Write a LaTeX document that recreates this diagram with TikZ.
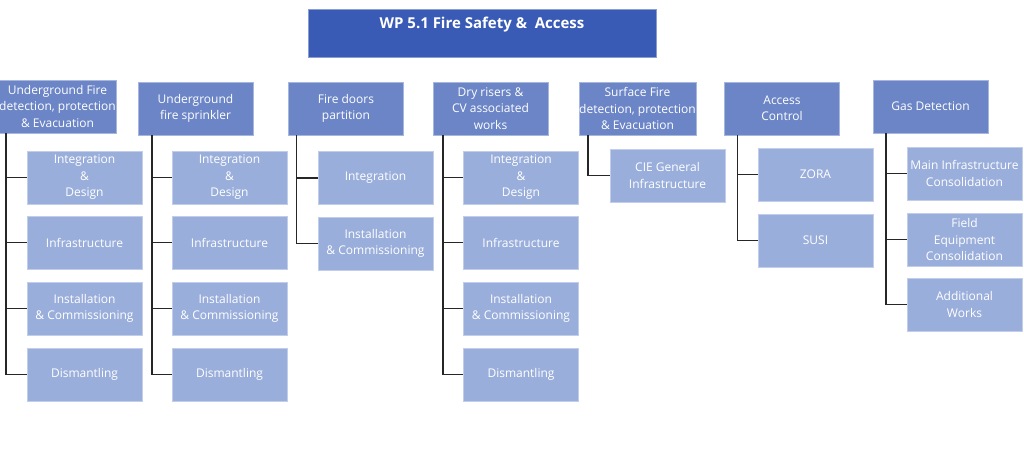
\documentclass[tikz,border=0pt]{standalone}
\usepackage{fontspec}
\setmainfont{Open Sans}
\usepackage{xcolor}
\usepackage{tikz}
\definecolor{wpblue}{HTML}{3A5BB5}
\definecolor{midblue}{HTML}{6B85C6}
\definecolor{lightblue}{HTML}{9AAEDB}
\tikzset{
  wpbox/.style={fill=wpblue, draw=wpblue!60!white, text=white, font=\fontsize{15}{18}\selectfont\bfseries,
    minimum width=348pt, inner sep=0pt, text height=20pt, text depth=28pt},
  topbox/.style={fill=midblue, draw=midblue!60!white, text=white, align=center, inner sep=0pt,
    minimum width=115pt, minimum height=53pt, font=\fontsize{12}{16.5}\selectfont},
  subbox/.style={topbox, fill=lightblue, draw=lightblue!60!white},
  link/.style={draw=black!85, line width=1.4pt}
}

\begin{document}
\begin{tikzpicture}[x=1pt, y=-1pt]
\useasboundingbox (0,0) rectangle (1024,449);

\node[wpbox] (wp) at (482,33) {WP 5.1 Fire Safety \&\ \ Access};

\node[topbox] (ugfire) at (57.5,106.5) {Underground Fire\\detection, protection\\\& Evacuation};
\node[topbox] (sprink) at (195.5,108.5) {Underground\\fire sprinkler};
\node[topbox] (doors) at (346,108.5) {Fire doors\\partition};
\node[topbox] (dry) at (490.5,108.5) {Dry risers \&\\CV associated\\works};
\node[topbox] (surf) at (637.5,108.5) {Surface Fire\\detection, protection\\\& Evacuation};
\node[topbox] (acc) at (782,108.5) {Access\\Control};
\node[topbox] (gas) at (930.5,106.5) {Gas Detection};

% underground fire
\node[subbox] (ugfire1) at (84.5,177.5) {Integration\\\&\\Design};
\node[subbox] (ugfire2) at (84.5,242.5) {Infrastructure};
\node[subbox] (ugfire3) at (84.5,308.5) {Installation\\\& Commissioning};
\node[subbox] (ugfire4) at (84.5,374.5) {Dismantling};

% sprinkler
\node[subbox] (sprink1) at (229.5,177.5) {Integration\\\&\\Design};
\node[subbox] (sprink2) at (229.5,242.5) {Infrastructure};
\node[subbox] (sprink3) at (229.5,308.5) {Installation\\\& Commissioning};
\node[subbox] (sprink4) at (229.5,374.5) {Dismantling};

% fire doors
\node[subbox] (doors1) at (375.5,178) {Integration};
\node[subbox] (doors2) at (375.5,243.5) {Installation\\\& Commissioning};

% dry risers
\node[subbox] (dry1) at (521,177.5) {Integration\\\&\\Design};
\node[subbox] (dry2) at (521,242.5) {Infrastructure};
\node[subbox] (dry3) at (521,308.5) {Installation\\\& Commissioning};
\node[subbox] (dry4) at (521,374.5) {Dismantling};

% surface fire
\node[subbox] (surf1) at (667.5,175.5) {CIE General\\Infrastructure};

% access control
\node[subbox] (acc1) at (815.5,174.5) {ZORA};
\node[subbox] (acc2) at (815.5,240.5) {SUSI};

% gas detection
\node[subbox] (gas1) at (964.5,173.5) {Main Infrastructure\\Consolidation};
\node[subbox] (gas2) at (964.5,239.5) {Field\\Equipment\\Consolidation};
\node[subbox] (gas3) at (964.5,304.5) {Additional\\Works};

% connectors
\foreach \c in {ugfire1,ugfire2,ugfire3,ugfire4}
  \draw[link] (ugfire.south west) ++(7,0) |- (\c.west);
\foreach \c in {sprink1,sprink2,sprink3,sprink4}
  \draw[link] (sprink.south west) ++(14,0) |- (\c.west);
\foreach \c in {doors1,doors2}
  \draw[link] (doors.south west) ++(8,0) |- (\c.west);
\foreach \c in {dry1,dry2,dry3,dry4}
  \draw[link] (dry.south west) ++(10,0) |- (\c.west);
\draw[link] (surf.south west) ++(9,0) |- (surf1.west);
\foreach \c in {acc1,acc2}
  \draw[link] (acc.south west) ++(13,0) |- (\c.west);
\foreach \c in {gas1,gas2,gas3}
  \draw[link] (gas.south west) ++(13,0) |- (\c.west);
\end{tikzpicture}
\end{document}
